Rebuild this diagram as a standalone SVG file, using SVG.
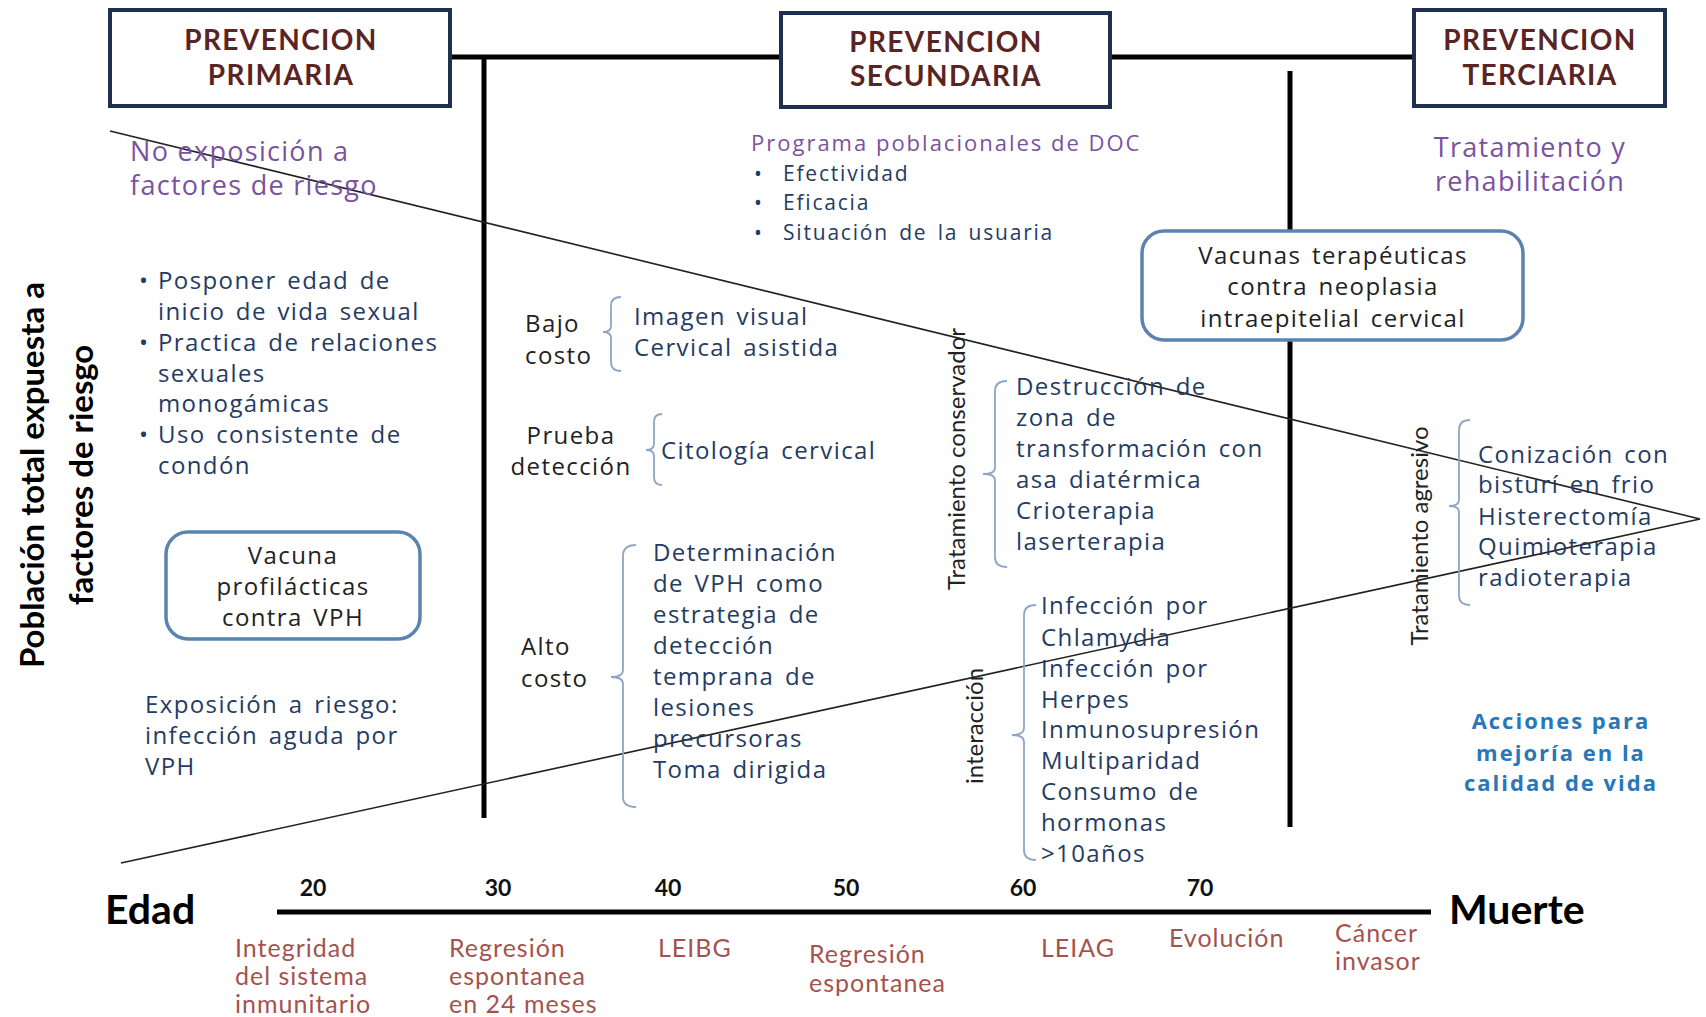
<svg xmlns="http://www.w3.org/2000/svg" width="1706" height="1017" viewBox="0 0 1706 1017">
  <style>
    .hd { font-family: Lato, "Liberation Sans", sans-serif; font-weight: bold; font-size: 28px; fill: #5a2424; text-anchor: middle; letter-spacing: 1.4px; }
    .hbox { fill: #ffffff; stroke: #1f2f4f; stroke-width: 4; }
    .rbox { fill: #ffffff; stroke: #5b83b0; stroke-width: 3.5; }
    .bar { stroke: #000000; stroke-width: 5; fill: none; stroke-linecap: butt; }
    .diag { stroke: #222222; stroke-width: 1.6; fill: none; }
    .brace { stroke: #8ea6c6; stroke-width: 1.8; fill: none; }
    .pur { font-family: "Open Sans", "Liberation Sans", sans-serif; font-size: 27px; fill: #7a52a0; letter-spacing: 1.3px; }
    .pur-s { font-family: "Open Sans", "Liberation Sans", sans-serif; font-size: 22px; fill: #7a52a0; letter-spacing: 2px; }
    .body { font-family: "Open Sans", "Liberation Sans", sans-serif; font-size: 24px; fill: #243b63; letter-spacing: 1.4px; word-spacing: 3px; }
    .body-s { font-family: "Open Sans", "Liberation Sans", sans-serif; font-size: 21px; fill: #243b63; letter-spacing: 1.8px; word-spacing: 3px; }
    .dark { font-family: "Open Sans", "Liberation Sans", sans-serif; font-size: 24px; fill: #222222; letter-spacing: 1.4px; word-spacing: 3px; }
    .mid { text-anchor: middle; }
    .rot { font-family: Lato, "Liberation Sans", sans-serif; font-size: 24px; fill: #222222; text-anchor: middle; }
    .side { font-family: Lato, "Liberation Sans", sans-serif; font-weight: bold; font-size: 33px; fill: #000000; text-anchor: middle; }
    .blue { font-family: "Open Sans", "Liberation Sans", sans-serif; font-weight: bold; font-size: 22px; fill: #2878b8; text-anchor: middle; letter-spacing: 2px; }
    .num { font-family: Lato, "Liberation Sans", sans-serif; font-weight: bold; font-size: 23px; fill: #111111; text-anchor: middle; }
    .big { font-family: Lato, "Liberation Sans", sans-serif; font-weight: bold; font-size: 41px; fill: #000000; }
    .red { font-family: Lato, "Liberation Sans", sans-serif; font-size: 25px; fill: #a5524e; letter-spacing: 1px; }
  </style>

  <rect width="1706" height="1017" fill="#ffffff"/>

  <!-- connectors: frame bars, timeline and the population wedge -->
  <g id="connectors">
    <path class="bar" d="M450,57 H781 M1110,57 H1414"/>
    <path class="bar" d="M484,57 V818"/>
    <path class="bar" d="M1290,71 V827"/>
    <path class="bar" d="M277,912 H1431"/>
    <path class="diag" d="M110,131 L1700,519 L121,863"/>
  </g>

  <!-- level headers -->
  <g id="prevencion-primaria">
    <rect class="hbox" x="110" y="10" width="340" height="96"/>
    <text class="hd" x="281" y="50">PREVENCION</text>
    <text class="hd" x="281" y="85">PRIMARIA</text>
  </g>
  <g id="prevencion-secundaria">
    <rect class="hbox" x="781" y="13" width="329" height="94"/>
    <text class="hd" x="946" y="52">PREVENCION</text>
    <text class="hd" x="946" y="86">SECUNDARIA</text>
  </g>
  <g id="prevencion-terciaria">
    <rect class="hbox" x="1414" y="10" width="251" height="96"/>
    <text class="hd" x="1540" y="50">PREVENCION</text>
    <text class="hd" x="1540" y="85">TERCIARIA</text>
  </g>

  <!-- level descriptions -->
  <g id="no-exposicion">
    <text class="pur" x="130" y="161">No exposición a</text>
    <text class="pur" x="130" y="195">factores de riesgo</text>
  </g>
  <g id="programa-doc">
    <text class="pur-s" x="751" y="151">Programa poblacionales  de DOC</text>
    <text class="body-s" x="754" y="181">•</text>
    <text class="body-s" x="783" y="181">Efectividad</text>
    <text class="body-s" x="754" y="210">•</text>
    <text class="body-s" x="783" y="210">Eficacia</text>
    <text class="body-s" x="754" y="240">•</text>
    <text class="body-s" x="783" y="240">Situación de la usuaria</text>
  </g>
  <g id="tratamiento-rehabilitacion">
    <text class="pur mid" x="1530" y="157">Tratamiento y</text>
    <text class="pur mid" x="1530" y="191">rehabilitación</text>
  </g>

  <!-- side axis label -->
  <g id="poblacion-label">
    <text class="side" transform="translate(44,475) rotate(-90)">Población total expuesta a</text>
    <text class="side" transform="translate(93,475) rotate(-90)">factores de riesgo</text>
  </g>

  <!-- primary prevention -->
  <g id="medidas-primarias">
    <text class="body" x="139" y="289">•</text>
    <text class="body" x="158" y="289">Posponer edad de</text>
    <text class="body" x="158" y="320">inicio de vida sexual</text>
    <text class="body" x="139" y="351">•</text>
    <text class="body" x="158" y="351">Practica de relaciones</text>
    <text class="body" x="158" y="382">sexuales</text>
    <text class="body" x="158" y="412">monogámicas</text>
    <text class="body" x="139" y="443">•</text>
    <text class="body" x="158" y="443">Uso consistente de</text>
    <text class="body" x="158" y="474">condón</text>
  </g>
  <g id="vacuna-profilactica">
    <rect class="rbox" x="166" y="532" width="254" height="107" rx="22"/>
    <text class="dark mid" x="293" y="564">Vacuna</text>
    <text class="dark mid" x="293" y="595">profilácticas</text>
    <text class="dark mid" x="293" y="626">contra VPH</text>
  </g>
  <g id="exposicion-riesgo">
    <text class="body" x="145" y="713">Exposición a riesgo:</text>
    <text class="body" x="145" y="744">infección aguda por</text>
    <text class="body" x="145" y="775">VPH</text>
  </g>

  <!-- secondary prevention -->
  <g id="bajo-costo">
    <text class="dark" x="525" y="332">Bajo</text>
    <text class="dark" x="525" y="364">costo</text>
    <path class="brace" d="M621,297 Q611,297 611,306 L611,326 Q611,332 603,332 Q611,332 611,338 L611,362 Q611,371 621,371"/>
    <text class="body" x="634" y="325">Imagen visual</text>
    <text class="body" x="634" y="356">Cervical asistida</text>
  </g>
  <g id="prueba-deteccion">
    <text class="dark mid" x="571" y="444">Prueba</text>
    <text class="dark mid" x="571" y="475">detección</text>
    <path class="brace" d="M662,414 Q654,414 654,422 L654,444 Q654,450 646,450 Q654,450 654,456 L654,477 Q654,485 662,485"/>
    <text class="body" x="661" y="459">Citología cervical</text>
  </g>
  <g id="alto-costo">
    <text class="dark" x="521" y="655">Alto</text>
    <text class="dark" x="521" y="687">costo</text>
    <path class="brace" d="M636,545 Q623,545 623,556 L623,670 Q623,677 611,677 Q623,677 623,684 L623,797 Q623,807 636,807"/>
    <text class="body" x="653" y="561">Determinación</text>
    <text class="body" x="653" y="592">de VPH como</text>
    <text class="body" x="653" y="623">estrategia de</text>
    <text class="body" x="653" y="654">detección</text>
    <text class="body" x="653" y="685">temprana de</text>
    <text class="body" x="653" y="716">lesiones</text>
    <text class="body" x="653" y="747">precursoras</text>
    <text class="body" x="653" y="778">Toma dirigida</text>
  </g>

  <g id="tratamiento-conservador">
    <text class="rot" transform="translate(965,459) rotate(-90)">Tratamiento conservador</text>
    <path class="brace" d="M1007,381 Q995,381 995,391 L995,468 Q995,474 983,474 Q995,474 995,480 L995,557 Q995,567 1007,567"/>
    <text class="body" x="1016" y="395">Destrucción de</text>
    <text class="body" x="1016" y="426">zona de</text>
    <text class="body" x="1016" y="457">transformación con</text>
    <text class="body" x="1016" y="488">asa diatérmica</text>
    <text class="body" x="1016" y="519">Crioterapia</text>
    <text class="body" x="1016" y="550">laserterapia</text>
  </g>

  <g id="interaccion">
    <text class="rot" transform="translate(983,726) rotate(-90)">interacción</text>
    <path class="brace" d="M1036,605 Q1024,605 1024,615 L1024,728 Q1024,735 1012,735 Q1024,735 1024,742 L1024,850 Q1024,860 1036,860"/>
    <text class="body" x="1041" y="614">Infección por</text>
    <text class="body" x="1041" y="646">Chlamydia</text>
    <text class="body" x="1041" y="677">Infección por</text>
    <text class="body" x="1041" y="708">Herpes</text>
    <text class="body" x="1041" y="738">Inmunosupresión</text>
    <text class="body" x="1041" y="769">Multiparidad</text>
    <text class="body" x="1041" y="800">Consumo de</text>
    <text class="body" x="1041" y="831">hormonas</text>
    <text class="body" x="1041" y="862">&gt;10años</text>
  </g>

  <!-- tertiary prevention -->
  <g id="vacunas-terapeuticas">
    <rect class="rbox" x="1142" y="231" width="381" height="109" rx="22"/>
    <text class="dark mid" x="1333" y="264">Vacunas terapéuticas</text>
    <text class="dark mid" x="1333" y="295">contra neoplasia</text>
    <text class="dark mid" x="1333" y="327">intraepitelial cervical</text>
  </g>
  <g id="tratamiento-agresivo">
    <text class="rot" transform="translate(1428,536) rotate(-90)">Tratamiento agresivo</text>
    <path class="brace" d="M1470,420 Q1459,420 1459,430 L1459,500 Q1459,506 1449,506 Q1459,506 1459,512 L1459,595 Q1459,605 1470,605"/>
    <text class="body" x="1478" y="463">Conización con</text>
    <text class="body" x="1478" y="493">bisturí en frio</text>
    <text class="body" x="1478" y="525">Histerectomía</text>
    <text class="body" x="1478" y="555">Quimioterapia</text>
    <text class="body" x="1478" y="586">radioterapia</text>
  </g>
  <g id="acciones-calidad">
    <text class="blue" x="1561" y="729">Acciones para</text>
    <text class="blue" x="1561" y="761">mejoría en la</text>
    <text class="blue" x="1561" y="791">calidad  de vida</text>
  </g>

  <!-- age axis -->
  <g id="eje-edad">
    <text class="big" x="105" y="924">Edad</text>
    <text class="big" x="1449" y="924">Muerte</text>
    <text class="num" x="313" y="896">20</text>
    <text class="num" x="498" y="896">30</text>
    <text class="num" x="668" y="896">40</text>
    <text class="num" x="846" y="896">50</text>
    <text class="num" x="1023" y="896">60</text>
    <text class="num" x="1200" y="896">70</text>
  </g>
  <g id="etapas">
    <text class="red" x="235" y="957">Integridad</text>
    <text class="red" x="235" y="985">del sistema</text>
    <text class="red" x="235" y="1013">inmunitario</text>
    <text class="red" x="449" y="957">Regresión</text>
    <text class="red" x="449" y="985">espontanea</text>
    <text class="red" x="449" y="1013">en 24 meses</text>
    <text class="red" x="658" y="957">LEIBG</text>
    <text class="red" x="809" y="963">Regresión</text>
    <text class="red" x="809" y="992">espontanea</text>
    <text class="red" x="1041" y="957">LEIAG</text>
    <text class="red" x="1169" y="947">Evolución</text>
    <text class="red" x="1335" y="942">Cáncer</text>
    <text class="red" x="1335" y="970">invasor</text>
  </g>
</svg>
